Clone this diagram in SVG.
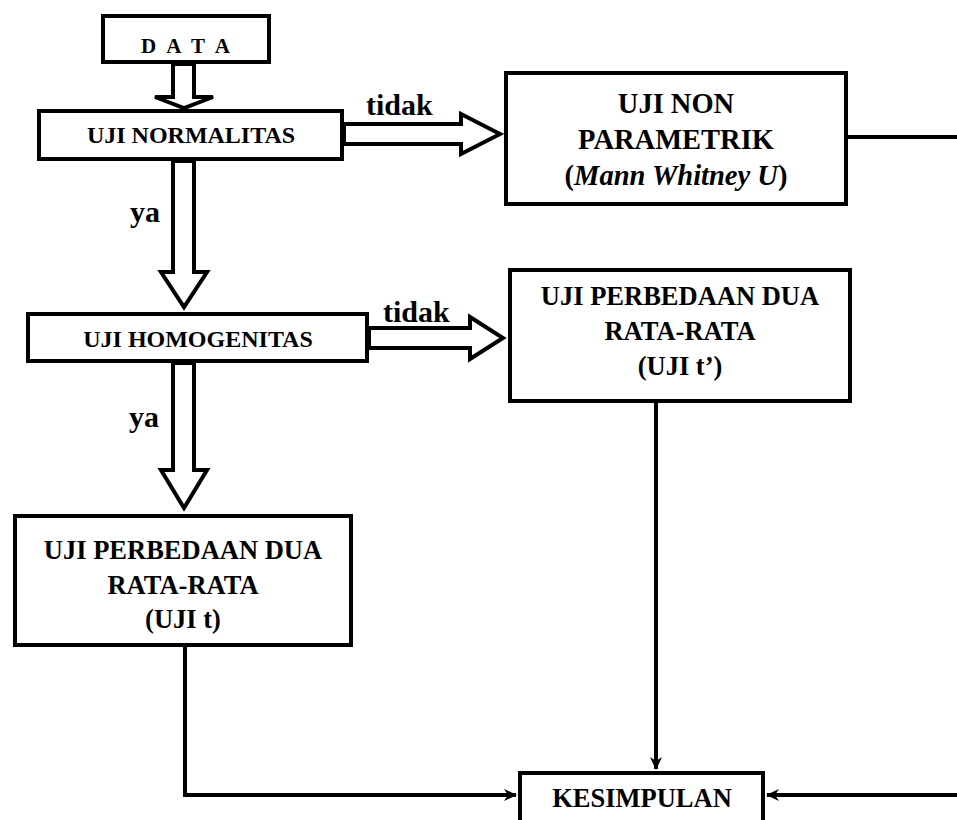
<svg xmlns="http://www.w3.org/2000/svg" width="957" height="820" viewBox="0 0 957 820">
<style>
.box{fill:#fff;stroke:#000;stroke-width:4}
.blk{fill:#fff;stroke:#000;stroke-width:4;stroke-linejoin:miter}
.ln{fill:none;stroke:#000;stroke-width:4}
text{font-family:"Liberation Serif","Times New Roman",serif;font-weight:bold;fill:#000}
.t24{font-size:24px;text-anchor:middle}
.t28{font-size:28.5px;text-anchor:middle}
.t26{font-size:26.5px;text-anchor:middle}
.lbl{font-size:30px}
</style>
<defs>
<marker id="ah" markerWidth="14" markerHeight="14" refX="12" refY="7" orient="auto" markerUnits="userSpaceOnUse">
<path d="M0,1 L13,7 L0,13 L4,7 Z" fill="#000"/>
</marker>
</defs>
<rect width="957" height="820" fill="#fff"/>
<g id="connectors">
<polygon class="blk" points="173,64 173,97 155,97 184,108 213,97 194,97 194,64"/>
<polygon class="blk" points="173,161 173,272 161,272 184,307 207,272 194,272 194,161"/>
<polygon class="blk" points="173,363 173,470 161,470 184,508 207,470 194,470 194,363"/>
<polygon class="blk" points="344,124 461,124 461,114 500,134 461,154 461,144 344,144"/>
<polygon class="blk" points="369,328 470,328 470,317 503,338 470,359 470,348 369,348"/>
<polyline class="ln" points="848,137 957,137"/>
<polyline class="ln" points="957,795 767,795" marker-end="url(#ah)"/>
<polyline class="ln" points="656,403 656,769" marker-end="url(#ah)"/>
<polyline class="ln" points="185,647 185,795 516,795" marker-end="url(#ah)"/>
<text class="lbl" x="366" y="115">tidak</text>
<text class="lbl" x="383" y="322">tidak</text>
<text class="lbl" x="130" y="222">ya</text>
<text class="lbl" x="129" y="427">ya</text>
</g>
<g id="data">
<rect class="box" x="103" y="16" width="166" height="46"/>
<text x="187" y="53" style="font-size:21px;text-anchor:middle;letter-spacing:3px">D A T A</text>
</g>
<g id="normalitas">
<rect class="box" x="39" y="111" width="303" height="48"/>
<text class="t24" x="191" y="143">UJI NORMALITAS</text>
</g>
<g id="nonparametrik">
<rect class="box" x="506" y="73" width="340" height="131"/>
<text class="t28" x="676" y="113">UJI NON</text>
<text class="t28" x="676" y="149">PARAMETRIK</text>
<text class="t28" x="676" y="185">(<tspan font-style="italic">Mann Whitney U</tspan>)</text>
</g>
<g id="homogenitas">
<rect class="box" x="28" y="314" width="339" height="47"/>
<text class="t24" x="198" y="347">UJI HOMOGENITAS</text>
</g>
<g id="ujit2">
<rect class="box" x="510" y="270" width="340" height="131"/>
<text class="t26" x="680" y="305">UJI PERBEDAAN DUA</text>
<text class="t26" x="680" y="340">RATA-RATA</text>
<text class="t26" x="680" y="375">(UJI t’)</text>
</g>
<g id="ujit">
<rect class="box" x="15" y="516" width="336" height="129"/>
<text class="t26" x="183" y="559">UJI PERBEDAAN DUA</text>
<text class="t26" x="183" y="594">RATA-RATA</text>
<text class="t26" x="183" y="628">(UJI t)</text>
</g>
<g id="kesimpulan">
<rect class="box" x="520" y="773" width="243" height="60"/>
<text x="642" y="807" style="font-size:26.5px;text-anchor:middle">KESIMPULAN</text>
</g>
</svg>
